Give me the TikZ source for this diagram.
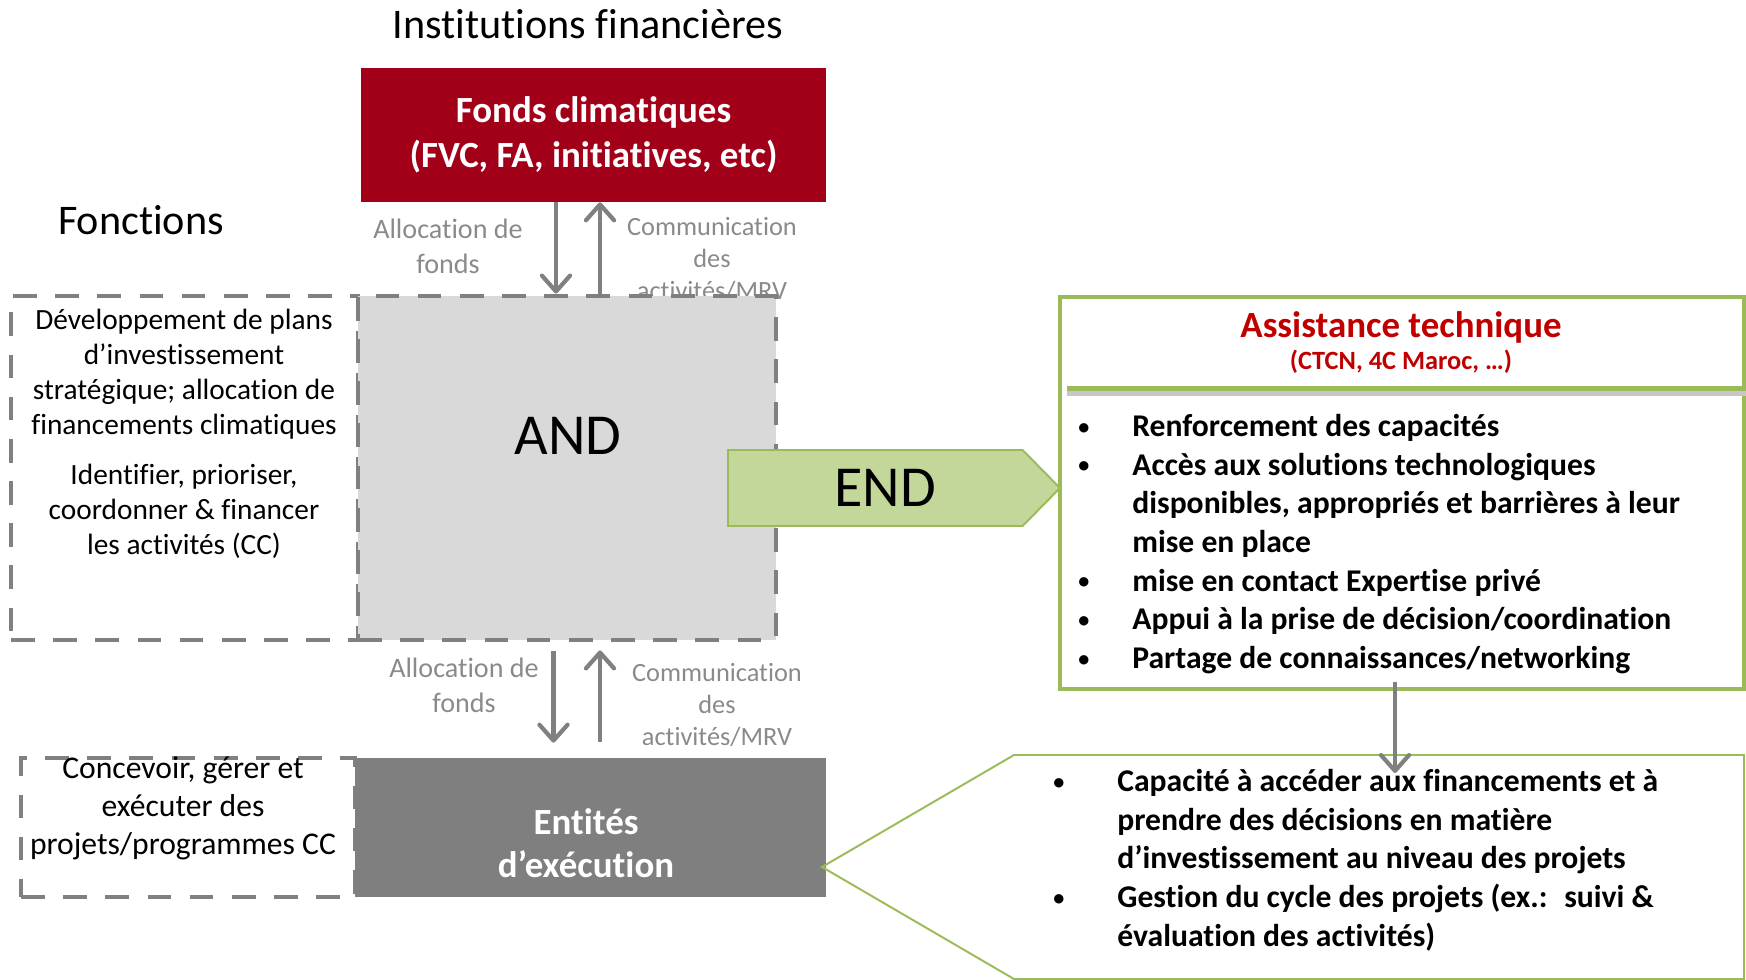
\documentclass[tikz,border=0pt]{standalone}
\usepackage{fontspec}
\setmainfont{Carlito}[Ligatures={TeX,NoCommon,NoContextual,NoRare},Contextuals=NoAlternate]
\usepackage{tikz}
\usetikzlibrary{arrows.meta, positioning, calc, shapes.symbols}
\definecolor{fondsred}{HTML}{A20019}
\definecolor{atred}{HTML}{C00000}
\definecolor{flowgray}{HTML}{808080}
\definecolor{labelgray}{HTML}{8A8A8A}
\definecolor{andgray}{HTML}{D9D9D9}
\definecolor{entgray}{HTML}{7F7F7F}
\definecolor{atgreen}{HTML}{9BBB59}
\definecolor{endfill}{HTML}{C4D79B}

\newcommand{\puce}[1]{\makebox[#1][l]{\raisebox{0.07em}{\scalebox{0.7}{\textbullet}}}}

\begin{document}
\begin{tikzpicture}[
    every node/.style={inner sep=0pt},
    bigtitle/.style={
        font=\fontsize{24}{29}\selectfont
    },
    fondsbox/.style={
        rectangle,
        fill=fondsred,
        text=white,
        minimum width=9.3cm,
        minimum height=2.68cm,
        align=center,
        font=\fontsize{21}{25.3}\selectfont\bfseries
    },
    dashbox/.style={
        rectangle,
        draw=flowgray,
        line width=2.8pt,
        dash pattern=on 13.5pt off 10.5pt
    },
    andbox/.style={
        dashbox,
        fill=andgray
    },
    entbox/.style={
        rectangle,
        fill=entgray,
        minimum width=9.42cm,
        minimum height=2.78cm
    },
    fcttxt/.style={
        align=center,
        font=\fontsize{16.7}{19.9}\selectfont
    },
    fcttxtb/.style={
        align=center,
        font=\fontsize{18}{21.6}\selectfont
    },
    enttxt/.style={
        text=white,
        align=center,
        font=\fontsize{21}{24.5}\selectfont\bfseries
    },
    bigtxt/.style={
        font=\fontsize{33}{40}\selectfont
    },
    flow/.style={
        -{Straight Barb[length=9pt,width=16pt,round]},
        line width=2.4pt,
        draw=flowgray
    },
    lblalloc/.style={
        text=labelgray,
        align=center,
        font=\fontsize{16}{20}\selectfont
    },
    lblcomm/.style={
        text=labelgray,
        align=center,
        font=\fontsize{15}{18.2}\selectfont
    },
    endarrow/.style={
        signal,
        signal to=east,
        signal pointer angle=91,
        fill=endfill,
        draw=atgreen,
        line width=1.1pt,
        minimum width=6.64cm,
        minimum height=1.52cm,
        font=\fontsize{33}{40}\selectfont
    },
    atbox/.style={
        rectangle,
        draw=atgreen,
        line width=2.8pt,
        minimum width=13.68cm,
        minimum height=7.84cm
    },
    attitle/.style={
        text=atred,
        font=\fontsize{21}{25}\selectfont\bfseries
    },
    atsub/.style={
        text=atred,
        font=\fontsize{15}{18}\selectfont\bfseries
    },
    sepline/.style={
        draw=atgreen,
        line width=3pt
    },
    sepshadow/.style={
        draw=black!22,
        line width=3pt
    },
    bulltxt/.style={
        align=left,
        font=\fontsize{18}{22}\selectfont\bfseries
    },
    callout/.style={
        draw=atgreen,
        line width=1.1pt
    }
]
\useasboundingbox (0,0) rectangle (34.92,-19.6);

% Top - institutions
\node[bigtitle] (inst) at (11.76,-0.49) {Institutions financières};
\node[fondsbox] (fonds) at (11.87,-2.70) {Fonds climatiques\\(FVC, FA, initiatives, etc)};
\node[bigtitle] (fct) at (2.82,-4.4) {Fonctions};

% Labels - top flows
\node[lblalloc] (alloc1) at (8.96,-4.93) {Allocation de\\fonds};
\node[lblcomm] (comm1) at (14.24,-5.18) {Communication\\des\\activités/MRV};

% AND and its functions
\node[dashbox, minimum width=6.94cm, minimum height=6.88cm] (fctand) at (3.69,-9.36) {};
\node[andbox, minimum width=8.36cm, minimum height=6.88cm] (andbox) at (11.34,-9.36) {};
\node[bigtxt] (andtxt) at (11.36,-8.72) {AND};
\node[fcttxt] (fctandtxt) at (3.68,-8.68) {Développement de plans\\d’investissement\\stratégique; allocation de\\financements climatiques\\[8.5pt]Identifier, prioriser,\\coordonner \& financer\\les activités (CC)};

% Arrows - top
\draw[flow] ([xshift=-0.75cm]fonds.south) -- ([xshift=-0.75cm]fonds.south |- andbox.north);
\draw[flow] ([xshift=0.13cm]fonds.south |- andbox.north) -- ([xshift=0.13cm]fonds.south);

% Executing entities
\node[dashbox, minimum width=6.68cm, minimum height=2.78cm] (fctent) at (3.76,-16.55) {};
\node[entbox] (entites) at (11.81,-16.55) {};
\node[enttxt] (entxt) at (11.72,-16.86) {Entités\\d’exécution};
\node[fcttxtb] (fctenttxt) at (3.66,-16.16) {Concevoir, gérer et\\exécuter des\\projets/programmes CC};

% Arrows - bottom
\node[lblalloc] (alloc2) at (9.28,-13.7) {Allocation de\\fonds};
\node[lblcomm] (comm2) at (14.34,-14.1) {Communication\\des\\activités/MRV};
\draw[flow, shorten <=0.18cm, shorten >=0.3cm] ([xshift=-0.27cm]andbox.south) -- ([xshift=-0.27cm]andbox.south |- entites.north);
\draw[flow, shorten <=0.32cm, shorten >=0.16cm] ([xshift=0.66cm]andbox.south |- entites.north) -- ([xshift=0.66cm]andbox.south);

% END and technical assistance
\node[endarrow, anchor=west] (endnode) at (14.54,-9.76) {\hspace*{0.4cm}END};
\node[atbox] (assist) at (28.04,-9.86) {};
\node[attitle] (attitle) at (28.02,-6.54) {Assistance technique};
\node[atsub] (atsub) at (28.02,-7.24) {(CTCN, 4C Maroc, …)};
\draw[sepshadow] ($(assist.north west)+(0.18,-1.97)$) -- ($(assist.north east)+(0,-1.97)$);
\draw[sepline] ($(assist.north west)+(0.18,-1.88)$) -- ($(assist.north east)+(0,-1.88)$);
\node[bulltxt, anchor=west] (atlist) at (21.56,-10.88) {\puce{1.08cm}Renforcement des capacités\\
\puce{1.08cm}Accès aux solutions technologiques\\
\hspace*{1.08cm}disponibles, appropriés et barrières à leur\\
\hspace*{1.08cm}mise en place\\
\puce{1.08cm}mise en contact Expertise privé\\
\puce{1.08cm}Appui à la prise de décision/coordination\\
\puce{1.08cm}Partage de connaissances/networking};

% Capacities callout
\draw[callout] (20.28,-15.1) -- (34.88,-15.1) -- (34.88,-19.58) -- (20.28,-19.58) -- (16.44,-17.34) -- cycle;
\node[bulltxt, anchor=west] (capa) at (21.06,-17.2) {\puce{1.28cm}Capacité à accéder aux financements et à\\
\hspace*{1.28cm}prendre des décisions en matière\\
\hspace*{1.28cm}d’investissement au niveau des projets\\
\puce{1.28cm}Gestion du cycle des projets (ex.:~ suivi \&\\
\hspace*{1.28cm}évaluation des activités)};
\coordinate (capin) at (27.9,-15.46);
\draw[flow] ([yshift=0.18cm]capin |- assist.south) -- (capin);

\end{tikzpicture}
\end{document}
